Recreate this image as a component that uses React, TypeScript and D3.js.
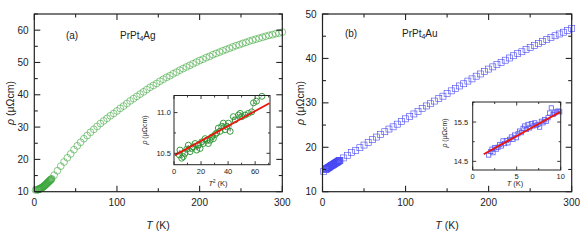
import { useEffect, useRef } from "react";
import * as d3 from "d3";

// PrPt4Ag main curve: dense low-T run, then the full sweep
const agLowT = [1.5, 4, 4.5, 5, 5.5, 6, 6.5, 7, 7.5, 8, 8.5, 9, 9.5, 10, 10.5, 11, 11.5, 12, 12.5, 13, 13.5, 14, 14.5, 15, 15.5, 16, 16.5, 17, 17.5, 18, 18.5, 19, 19.5, 20, 20.5, 21];
const agLowRho = [10.5, 10.6, 10.65, 10.7, 10.75, 10.8, 10.86, 10.92, 10.98, 11.05, 11.13, 11.22, 11.31, 11.4, 11.49, 11.58, 11.68, 11.78, 11.89, 12.0, 12.12, 12.25, 12.37, 12.5, 12.62, 12.75, 12.87, 13.0, 13.12, 13.25, 13.37, 13.5, 13.62, 13.75, 13.87, 14.0];
const agT = [24, 28, 32, 36, 40, 44, 48, 52, 56, 60, 64, 68, 72, 76, 80, 84, 88, 92, 96, 100, 104, 108, 112, 116, 120, 124, 128, 132, 136, 140, 144, 148, 152, 156, 160, 164, 168, 172, 176, 180, 184, 188, 192, 196, 200, 204, 208, 212, 216, 220, 224, 228, 232, 236, 240, 244, 248, 252, 256, 260, 264, 268, 272, 276, 280, 284, 288, 292, 296, 300];
const agRho = [15.1, 16.5, 17.9, 19.2, 20.5, 21.7, 23.0, 24.2, 25.3, 26.4, 27.4, 28.4, 29.3, 30.2, 31.1, 31.9, 32.7, 33.5, 34.2, 35.0, 35.8, 36.5, 37.3, 38.1, 38.8, 39.5, 40.2, 40.9, 41.6, 42.3, 42.9, 43.5, 44.2, 44.8, 45.4, 45.9, 46.5, 47.0, 47.6, 48.1, 48.6, 49.1, 49.6, 50.1, 50.6, 51.0, 51.5, 51.9, 52.4, 52.8, 53.2, 53.6, 54.0, 54.4, 54.8, 55.2, 55.5, 55.9, 56.2, 56.6, 56.9, 57.2, 57.5, 57.8, 58.1, 58.4, 58.6, 58.9, 59.1, 59.4];

// PrPt4Ag inset: rho vs T^2
const agInsetT2 = [3.9, 4.4, 5.7, 6.9, 8.1, 9.4, 10.6, 11.9, 13.1, 14.3, 15.6, 16.8, 18.0, 19.3, 20.5, 21.7, 23.0, 24.2, 25.4, 26.7, 27.9, 29.1, 30.4, 31.6, 32.8, 34.1, 35.3, 36.5, 37.8, 39.0, 40.2, 41.5, 43.9, 45.2, 47.7, 48.9, 50.1, 52.6, 55.0, 57.5, 58.8, 61.0, 65.0];
const agInsetRho = [10.48, 10.54, 10.44, 10.46, 10.5, 10.55, 10.6, 10.52, 10.56, 10.58, 10.62, 10.54, 10.6, 10.56, 10.64, 10.62, 10.68, 10.66, 10.62, 10.66, 10.7, 10.68, 10.73, 10.75, 10.81, 10.77, 10.83, 10.87, 10.79, 10.83, 10.87, 10.77, 10.95, 10.91, 10.97, 10.99, 10.95, 10.97, 10.99, 11.01, 11.12, 11.14, 11.2];
const agFitX = [0.5, 70.5];
const agFitY = [10.475, 11.115];

// PrPt4Au main curve
const auLowT = [1.5, 4, 4.5, 5, 5.5, 6, 6.5, 7, 7.5, 8, 8.5, 9, 9.5, 10, 10.5, 11, 11.5, 12, 12.5, 13, 13.5, 14, 14.5, 15, 15.5, 16, 16.5, 17, 17.5, 18, 18.5, 19, 19.5, 20, 20.5, 21];
const auLowRho = [14.6, 15.0, 15.07, 15.15, 15.22, 15.3, 15.35, 15.4, 15.45, 15.5, 15.57, 15.65, 15.72, 15.8, 15.85, 15.9, 15.95, 16.0, 16.05, 16.1, 16.17, 16.25, 16.3, 16.35, 16.42, 16.5, 16.55, 16.6, 16.65, 16.7, 16.77, 16.85, 16.9, 16.95, 17.0, 17.05];
const auT = [25, 30, 35, 40, 45, 50, 55, 60, 65, 70, 75, 80, 85, 90, 95, 100, 105, 110, 115, 120, 125, 130, 135, 140, 145, 150, 155, 160, 165, 170, 175, 180, 185, 190, 195, 200, 205, 210, 215, 220, 225, 230, 235, 240, 245, 250, 255, 260, 265, 270, 275, 280, 285, 290, 295, 300];
const auRho = [17.6, 18.2, 18.8, 19.3, 19.9, 20.5, 21.1, 21.7, 22.3, 22.9, 23.5, 24.1, 24.6, 25.2, 25.8, 26.4, 26.9, 27.5, 28.1, 28.7, 29.3, 29.8, 30.4, 31.0, 31.5, 32.1, 32.7, 33.2, 33.8, 34.3, 34.9, 35.4, 36.0, 36.5, 37.1, 37.6, 38.1, 38.6, 39.1, 39.6, 40.1, 40.6, 41.1, 41.5, 42.0, 42.5, 42.9, 43.4, 43.8, 44.3, 44.7, 45.1, 45.5, 45.9, 46.3, 46.7];

// PrPt4Au inset: rho vs T
const auInsetT = [1.82, 2.05, 2.19, 2.31, 2.5, 2.69, 2.88, 3.07, 3.25, 3.44, 3.63, 3.82, 4.01, 4.2, 4.39, 4.58, 4.77, 4.95, 5.15, 5.34, 5.52, 5.72, 5.91, 6.09, 6.28, 6.48, 6.66, 6.85, 7.05, 7.23, 7.42, 7.61, 7.8, 7.99, 8.18, 8.36, 8.56, 8.75, 8.93, 9.13, 9.32, 9.5, 9.69, 9.89];
const auInsetRho = [14.66, 14.75, 14.81, 14.72, 14.85, 14.81, 14.86, 14.93, 14.89, 15.02, 14.95, 15.03, 14.97, 15.06, 15.12, 15.06, 15.17, 15.1, 15.2, 15.27, 15.23, 15.34, 15.4, 15.31, 15.44, 15.35, 15.46, 15.4, 15.48, 15.42, 15.44, 15.37, 15.52, 15.48, 15.56, 15.52, 15.61, 15.73, 15.86, 15.69, 15.73, 15.76, 15.78, 15.76];
const auFitX = [1.25, 10];
const auFitY = [14.68, 15.765];

const mainXTicks = [0, 100, 200, 300];
const mainXMinor = [50, 150, 250];
const agYTicks = [10, 20, 30, 40, 50, 60];
const auYTicks = [10, 20, 30, 40, 50];
const agInsetXTicks = [0, 20, 40, 60];
const agInsetYTicks = [10.5, 11.0];
const auInsetXTicks = [0, 5, 10];
const auInsetYTicks = [14.5, 15.5];

const FONT = "'Liberation Sans', Arial, Helvetica, sans-serif";
const INK = "#222";

type Sel = d3.Selection<SVGGElement, unknown, null, undefined>;

function frameWithTicks(
  g: Sel,
  x: d3.ScaleLinear<number, number>,
  y: d3.ScaleLinear<number, number>,
  xMajor: number[],
  xMinor: number[],
  yMajor: number[],
  yMinor: number[],
  major: number,
  minor: number,
  width: number
) {
  const [x0, x1] = x.range();
  const [y0, y1] = y.range(); // y0 bottom, y1 top
  const tick = (xa: number, ya: number, xb: number, yb: number) =>
    g.append("line").attr("x1", xa).attr("y1", ya).attr("x2", xb).attr("y2", yb)
      .attr("stroke", INK).attr("stroke-width", width * 0.9);
  xMajor.concat(xMinor).forEach((v) => {
    const len = xMajor.includes(v) ? major : minor;
    const px = x(v);
    tick(px, y0, px, y0 - len);
    tick(px, y1, px, y1 + len);
  });
  yMajor.concat(yMinor).forEach((v) => {
    const len = yMajor.includes(v) ? major : minor;
    const py = y(v);
    tick(x0, py, x0 + len, py);
    tick(x1, py, x1 - len, py);
  });
  g.append("rect").attr("x", x0).attr("y", y1).attr("width", x1 - x0).attr("height", y0 - y1)
    .attr("fill", "none").attr("stroke", INK).attr("stroke-width", width);
}

function rhoLabel(g: Sel, cx: number, cy: number, size: number) {
  const t = g.append("text")
    .attr("transform", `translate(${cx},${cy}) rotate(-90)`)
    .attr("text-anchor", "middle").attr("dominant-baseline", "central")
    .attr("font-size", size).attr("fill", INK);
  t.append("tspan").attr("font-style", "italic").text("ρ");
  t.append("tspan").text(" (μΩcm)");
}

function tLabel(g: Sel, cx: number, by: number, size: number, squared: boolean) {
  const t = g.append("text").attr("x", cx).attr("y", by)
    .attr("text-anchor", "middle").attr("font-size", size).attr("fill", INK);
  t.append("tspan").attr("font-style", "italic").text("T");
  if (squared) t.append("tspan").attr("dy", -size * 0.4).attr("font-size", size * 0.6).text("2");
  t.append("tspan").attr("dy", squared ? size * 0.4 : 0).text(" (K)");
}

function compound(g: Sel, x: number, y: number, tail: string) {
  const t = g.append("text").attr("x", x).attr("y", y).attr("font-size", 10).attr("fill", INK);
  t.append("tspan").text("PrPt");
  t.append("tspan").attr("dy", 2.5).attr("font-size", 7).text("4");
  t.append("tspan").attr("dy", -2.5).text(tail);
}

export default function App() {
  const svgRef = useRef<SVGSVGElement | null>(null);

  useEffect(() => {
    if (!svgRef.current) return;
    const svg = d3.select(svgRef.current);
    svg.selectAll("*").remove();
    const root = svg.append("g").attr("font-family", FONT) as unknown as Sel;

    const green = "#3da63d";
    const blue = "#4848f4";

    // ---------- panel (a) PrPt4Ag ----------
    const xa = d3.scaleLinear().domain([0, 300]).range([34.3, 282.3]);
    const ya = d3.scaleLinear().domain([10, 65]).range([191.7, 14]);

    agLowT.concat(agT).forEach((t, i) => {
      const r = i < agLowT.length ? agLowRho[i] : agRho[i - agLowT.length];
      root.append("circle").attr("cx", xa(t)).attr("cy", ya(r)).attr("r", 3.4)
        .attr("fill", "none").attr("stroke", green).attr("stroke-width", 0.6);
    });
    frameWithTicks(root, xa, ya, mainXTicks, mainXMinor, agYTicks, [15, 25, 35, 45, 55, 65], 6, 3.5, 1.2);

    agYTicks.forEach((v) =>
      root.append("text").attr("x", 28.5).attr("y", ya(v)).attr("dy", "0.35em")
        .attr("text-anchor", "end").attr("font-size", 10).attr("fill", INK).text(v));
    mainXTicks.forEach((v) =>
      root.append("text").attr("x", xa(v)).attr("y", 206).attr("text-anchor", "middle")
        .attr("font-size", 10).attr("fill", INK).text(v));
    tLabel(root, 158, 229, 10.5, false);
    rhoLabel(root, 9.5, 103, 10.5);
    root.append("text").attr("x", 72).attr("y", 39).attr("text-anchor", "middle")
      .attr("font-size", 10).attr("fill", INK).text("(a)");
    compound(root, 120, 38.5, "Ag");

    // inset (a)
    const xai = d3.scaleLinear().domain([0, 71]).range([174, 270]);
    const yai = d3.scaleLinear().domain([10.36, 11.21]).range([164.7, 95.5]);
    root.append("rect").attr("x", 174).attr("y", 95.5).attr("width", 96).attr("height", 69.2).attr("fill", "#fff");
    const connect = d3.line<number>().x((d) => xai(d)).y((_, i) => yai(agInsetRho[i]));
    root.append("path").attr("d", connect(agInsetT2)).attr("fill", "none")
      .attr("stroke", "#444").attr("stroke-width", 0.5);
    agInsetT2.forEach((t, i) =>
      root.append("circle").attr("cx", xai(t)).attr("cy", yai(agInsetRho[i])).attr("r", 3)
        .attr("fill", "none").attr("stroke", "#23932a").attr("stroke-width", 0.9));
    root.append("line").attr("x1", xai(agFitX[0])).attr("y1", yai(agFitY[0]))
      .attr("x2", xai(agFitX[1])).attr("y2", yai(agFitY[1]))
      .attr("stroke", "#e8160c").attr("stroke-width", 1.8);
    frameWithTicks(root, xai, yai, agInsetXTicks, [10, 30, 50, 70], agInsetYTicks, [10.75], 3.5, 2, 1);
    agInsetYTicks.forEach((v) =>
      root.append("text").attr("x", 171).attr("y", yai(v)).attr("dy", "0.35em")
        .attr("text-anchor", "end").attr("font-size", 7.5).attr("fill", INK).text(v.toFixed(1)));
    agInsetXTicks.forEach((v) =>
      root.append("text").attr("x", xai(v)).attr("y", 173.5).attr("text-anchor", "middle")
        .attr("font-size", 7.5).attr("fill", INK).text(v));
    tLabel(root, 218, 186, 7.5, true);
    rhoLabel(root, 144, 130, 7);

    // ---------- panel (b) PrPt4Au ----------
    const xb = d3.scaleLinear().domain([0, 300]).range([322.5, 571.7]);
    const yb = d3.scaleLinear().domain([10, 50]).range([191.7, 14]);

    auLowT.concat(auT).forEach((t, i) => {
      const r = i < auLowT.length ? auLowRho[i] : auRho[i - auLowT.length];
      root.append("rect").attr("x", xb(t) - 3).attr("y", yb(r) - 3).attr("width", 6).attr("height", 6)
        .attr("fill", "none").attr("stroke", blue).attr("stroke-width", 0.6);
    });
    frameWithTicks(root, xb, yb, mainXTicks, mainXMinor, auYTicks, [15, 25, 35, 45], 6, 3.5, 1.2);
    auYTicks.forEach((v) =>
      root.append("text").attr("x", 316.7).attr("y", yb(v)).attr("dy", "0.35em")
        .attr("text-anchor", "end").attr("font-size", 10).attr("fill", INK).text(v));
    mainXTicks.forEach((v) =>
      root.append("text").attr("x", xb(v)).attr("y", 206).attr("text-anchor", "middle")
        .attr("font-size", 10).attr("fill", INK).text(v));
    tLabel(root, 447, 229, 10.5, false);
    rhoLabel(root, 300, 103, 10.5);
    root.append("text").attr("x", 351).attr("y", 37).attr("text-anchor", "middle")
      .attr("font-size", 10).attr("fill", INK).text("(b)");
    compound(root, 402, 36.5, "Au");

    // inset (b)
    const xbi = d3.scaleLinear().domain([0, 10]).range([472.7, 560.7]);
    const ybi = d3.scaleLinear().domain([14.28, 16.01]).range([170, 102]);
    root.append("rect").attr("x", 472.7).attr("y", 102).attr("width", 88).attr("height", 68).attr("fill", "#fff");
    auInsetT.forEach((t, i) =>
      root.append("rect").attr("x", xbi(t) - 2.1).attr("y", ybi(auInsetRho[i]) - 2.1)
        .attr("width", 4.2).attr("height", 4.2)
        .attr("fill", "none").attr("stroke", "#5a5af5").attr("stroke-width", 0.8));
    root.append("line").attr("x1", xbi(auFitX[0])).attr("y1", ybi(auFitY[0]))
      .attr("x2", xbi(auFitX[1])).attr("y2", ybi(auFitY[1]))
      .attr("stroke", "#e8160c").attr("stroke-width", 1.8);
    frameWithTicks(root, xbi, ybi, auInsetXTicks, [2.5, 7.5], auInsetYTicks, [15.0, 16.0], 3.5, 2, 1);
    auInsetYTicks.forEach((v) =>
      root.append("text").attr("x", 468.3).attr("y", ybi(v)).attr("dy", "0.35em")
        .attr("text-anchor", "end").attr("font-size", 7.5).attr("fill", INK).text(v.toFixed(1)));
    auInsetXTicks.forEach((v) =>
      root.append("text").attr("x", xbi(v)).attr("y", 178.5).attr("text-anchor", "middle")
        .attr("font-size", 7.5).attr("fill", INK).text(v));
    tLabel(root, 515, 186, 7.5, false);
    rhoLabel(root, 444, 133, 7);
  }, []);

  return (
    <div style={{ position: "absolute", left: 0, top: 0, width: 580, height: 248, background: "#fff" }}>
      <svg ref={svgRef} width={580} height={248} viewBox="0 0 580 248" />
    </div>
  );
}
